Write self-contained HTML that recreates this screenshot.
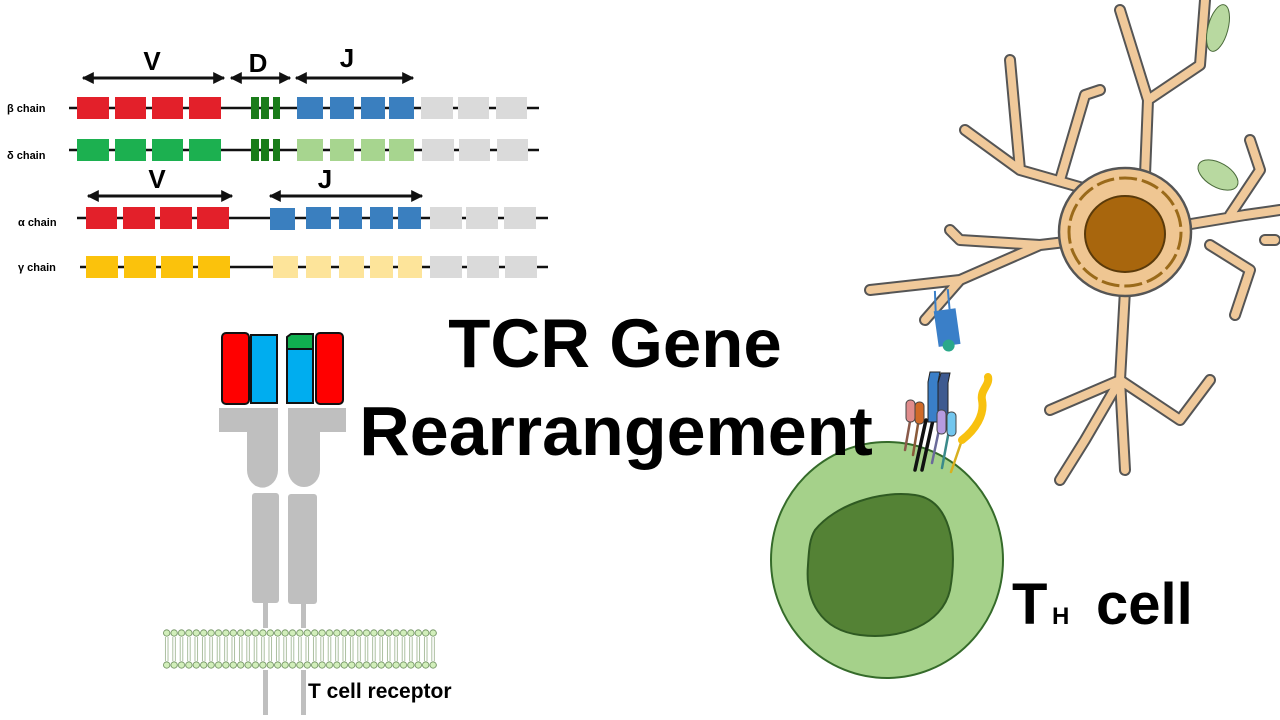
<!DOCTYPE html>
<html><head><meta charset="utf-8"><style>
html,body{margin:0;padding:0;background:#fff;}
svg{display:block}
text{font-family:"Liberation Sans",sans-serif;font-weight:bold;fill:#000}
</style></head><body>
<svg width="1280" height="720" viewBox="0 0 1280 720" xmlns="http://www.w3.org/2000/svg">
<defs>
<marker id="ah" viewBox="0 0 10 10" refX="9" refY="5" markerWidth="4" markerHeight="4" orient="auto-start-reverse"><path d="M0,0L10,5L0,10z" fill="#111"/></marker>
<pattern id="hp" x="163" y="0" width="7.4" height="720" patternUnits="userSpaceOnUse"><circle cx="3.7" cy="633" r="3.2" fill="#d2efbb" stroke="#678a58" stroke-width="0.8"/><circle cx="3.7" cy="665" r="3.2" fill="#d2efbb" stroke="#678a58" stroke-width="0.8"/><path d="M2.4,637V661M5,637V661" stroke="#8aa67a" stroke-width="0.7"/></pattern>
</defs>
<!-- gene diagram -->
<g stroke="#111" stroke-width="3" marker-start="url(#ah)" marker-end="url(#ah)">
<line x1="83" y1="78" x2="224" y2="78"/><line x1="231" y1="78" x2="290" y2="78"/><line x1="296" y1="78" x2="413" y2="78"/>
<line x1="88" y1="196" x2="232" y2="196"/><line x1="270" y1="196" x2="422" y2="196"/>
</g>
<g font-size="26" text-anchor="middle">
<text x="152" y="70">V</text><text x="258" y="72">D</text><text x="347" y="67">J</text>
<text x="157" y="188">V</text><text x="325" y="188">J</text>
</g>
<g font-size="11" font-weight="normal">
<text x="7" y="112">β chain</text><text x="7" y="159">δ chain</text><text x="18" y="226">α chain</text><text x="18" y="271">γ chain</text>
</g>
<g stroke="#111" stroke-width="2.5">
<line x1="69" y1="108" x2="539" y2="108"/><line x1="69" y1="150" x2="539" y2="150"/>
<line x1="77" y1="218" x2="548" y2="218"/><line x1="80" y1="267" x2="548" y2="267"/>
</g>
<g fill="#e3202a"><rect x="77" y="97" width="32" height="22"/><rect x="115" y="97" width="31" height="22"/><rect x="152" y="97" width="31" height="22"/><rect x="189" y="97" width="32" height="22"/>
<rect x="86" y="207" width="31" height="22"/><rect x="123" y="207" width="32" height="22"/><rect x="160" y="207" width="32" height="22"/><rect x="197" y="207" width="32" height="22"/></g>
<g fill="#1a7c1a"><rect x="251" y="97" width="8" height="22"/><rect x="261" y="97" width="8" height="22"/><rect x="273" y="97" width="7" height="22"/>
<rect x="251" y="139" width="8" height="22"/><rect x="261" y="139" width="8" height="22"/><rect x="273" y="139" width="7" height="22"/></g>
<g fill="#3a7fbf"><rect x="297" y="97" width="26" height="22"/><rect x="330" y="97" width="24" height="22"/><rect x="361" y="97" width="24" height="22"/><rect x="389" y="97" width="25" height="22"/>
<rect x="270" y="208" width="25" height="22"/><rect x="306" y="207" width="25" height="22"/><rect x="339" y="207" width="23" height="22"/><rect x="370" y="207" width="23" height="22"/><rect x="398" y="207" width="23" height="22"/></g>
<g fill="#1cb050"><rect x="77" y="139" width="32" height="22"/><rect x="115" y="139" width="31" height="22"/><rect x="152" y="139" width="31" height="22"/><rect x="189" y="139" width="32" height="22"/></g>
<g fill="#a7d58f"><rect x="297" y="139" width="26" height="22"/><rect x="330" y="139" width="24" height="22"/><rect x="361" y="139" width="24" height="22"/><rect x="389" y="139" width="25" height="22"/></g>
<g fill="#fbc20c"><rect x="86" y="256" width="32" height="22"/><rect x="124" y="256" width="32" height="22"/><rect x="161" y="256" width="32" height="22"/><rect x="198" y="256" width="32" height="22"/></g>
<g fill="#fde49a"><rect x="273" y="256" width="25" height="22"/><rect x="306" y="256" width="25" height="22"/><rect x="339" y="256" width="25" height="22"/><rect x="370" y="256" width="23" height="22"/><rect x="398" y="256" width="24" height="22"/></g>
<g fill="#dadada"><rect x="421" y="97" width="32" height="22"/><rect x="458" y="97" width="31" height="22"/><rect x="496" y="97" width="31" height="22"/>
<rect x="422" y="139" width="32" height="22"/><rect x="459" y="139" width="31" height="22"/><rect x="497" y="139" width="31" height="22"/>
<rect x="430" y="207" width="32" height="22"/><rect x="466" y="207" width="32" height="22"/><rect x="504" y="207" width="32" height="22"/>
<rect x="430" y="256" width="32" height="22"/><rect x="467" y="256" width="32" height="22"/><rect x="505" y="256" width="32" height="22"/></g>

<!-- TCR -->
<g fill="#bfbfbf">
<rect x="263" y="600" width="5" height="115"/><rect x="301" y="600" width="5" height="115"/>
<rect x="219" y="408" width="59" height="24"/><rect x="288" y="408" width="58" height="24"/>
<path d="M247,430h31v40a15,17 0 0 1 -31,0z"/><path d="M288,430h32v40a16,17 0 0 1 -32,0z"/>
<rect x="252" y="493" width="27" height="110" rx="3"/><rect x="288" y="494" width="29" height="110" rx="3"/>
</g>
<g stroke="#111" stroke-width="2">
<rect x="222" y="333" width="27" height="71" rx="4" fill="#f00"/>
<rect x="251" y="335" width="26" height="68" fill="#00adef"/>
<rect x="287" y="349" width="26" height="54" fill="#00adef"/>
<path d="M287,349v-12l4,-3h22v15z" fill="#10b050"/>
<rect x="316" y="333" width="27" height="71" rx="4" fill="#f00"/>
</g>
<rect x="163" y="628" width="274" height="42" fill="#fff"/>
<rect x="163" y="628" width="274" height="42" fill="url(#hp)"/>

<!-- T cell -->
<ellipse cx="887" cy="560" rx="116" ry="118" fill="#a5d18a" stroke="#356b2a" stroke-width="2"/>
<path d="M815,530 C835,505 880,490 915,495 C950,500 958,545 950,590 C942,625 900,640 860,635 C820,630 805,600 808,565 C809,548 810,538 815,530z" fill="#548235" stroke="#2f5a22" stroke-width="2"/>
<g stroke-width="2.5" stroke-linecap="round">
<line x1="905" y1="450" x2="912" y2="410" stroke="#8a5a4a"/><rect x="906" y="400" width="9" height="22" rx="4" fill="#e08c8c" stroke="#444" stroke-width="1"/>
<line x1="913" y1="455" x2="920" y2="412" stroke="#8a5a3a"/><rect x="915" y="402" width="9" height="22" rx="4" fill="#d06a28" stroke="#444" stroke-width="1"/>
<line x1="915" y1="470" x2="926" y2="420" stroke="#111" stroke-width="3.5"/><line x1="922" y1="470" x2="933" y2="420" stroke="#111" stroke-width="3.5"/>
<path d="M930,372 l10,0 l-2,10 l0,40 l-10,0 l0,-40z" fill="#3a7fc8" stroke="#222" stroke-width="1"/>
<path d="M941,373 l9,0 l-2,10 l0,40 l-10,0 l0,-40z" fill="#3e5a90" stroke="#222" stroke-width="1"/>
<line x1="932" y1="463" x2="940" y2="425" stroke="#6a6a9a"/><rect x="937" y="410" width="9" height="24" rx="4" fill="#b69be0" stroke="#444" stroke-width="1"/>
<line x1="942" y1="468" x2="950" y2="425" stroke="#3a8a8a"/><rect x="947" y="412" width="9" height="24" rx="4" fill="#72c6ee" stroke="#444" stroke-width="1"/>
<line x1="951" y1="472" x2="963" y2="437" stroke="#d8b020"/>
<path d="M962,440 C975,430 985,415 982,400 C980,390 990,385 988,377" stroke="#f8c10f" stroke-width="8" fill="none"/>
</g>
<text x="1012" y="624" font-size="58">T</text><text x="1052" y="624" font-size="24">H</text><text x="1096" y="624" font-size="58">cell</text>

<!-- dendritic cell -->
<g fill="none" stroke-linecap="round" stroke-linejoin="round">
<g stroke="#555" stroke-width="12">
<path d="M1125,235 L1040,245 L960,280 L870,290 M960,280 L925,320 M1040,245 L960,240 L950,230 M1090,190 L1020,170 L1010,60 M1020,170 L965,130 M1060,180 L1085,95 M1085,95 L1100,90 M1145,175 L1148,100 L1120,10 M1148,100 L1200,65 L1205,0 M1185,225 L1245,215 L1280,210 M1230,215 L1260,170 L1250,140 M1210,245 L1250,270 L1235,315 M1125,290 L1120,380 L1050,410 M1120,380 L1085,440 L1060,480 M1120,380 L1125,470 M1120,380 L1180,420 L1210,380 M1265,240 L1275,240"/>
</g>
<g stroke="#f0c99a" stroke-width="8">
<path d="M1125,235 L1040,245 L960,280 L870,290 M960,280 L925,320 M1040,245 L960,240 L950,230 M1090,190 L1020,170 L1010,60 M1020,170 L965,130 M1060,180 L1085,95 M1085,95 L1100,90 M1145,175 L1148,100 L1120,10 M1148,100 L1200,65 L1205,0 M1185,225 L1245,215 L1280,210 M1230,215 L1260,170 L1250,140 M1210,245 L1250,270 L1235,315 M1125,290 L1120,380 L1050,410 M1120,380 L1085,440 L1060,480 M1120,380 L1125,470 M1120,380 L1180,420 L1210,380 M1265,240 L1275,240"/>
</g>
</g>
<ellipse cx="1125" cy="232" rx="66" ry="64" fill="#efc692" stroke="#555" stroke-width="2.5"/>
<ellipse cx="1125" cy="232" rx="56" ry="54" fill="none" stroke="#9a6a1a" stroke-width="3" stroke-dasharray="18 5"/>
<ellipse cx="1125" cy="234" rx="40" ry="38" fill="#a8660d" stroke="#5a3a0a" stroke-width="2"/>
<ellipse cx="1218" cy="175" rx="22" ry="12" transform="rotate(30 1218 175)" fill="#b8d9a0" stroke="#4a6a3a" stroke-width="1"/>
<ellipse cx="1218" cy="28" rx="10" ry="24" transform="rotate(15 1218 28)" fill="#b8d9a0" stroke="#4a6a3a" stroke-width="1"/>
<g transform="rotate(-8 944 327)">
<line x1="940" y1="290" x2="938" y2="310" stroke="#3a7fc8" stroke-width="2"/><line x1="953" y1="290" x2="952" y2="310" stroke="#3a7fc8" stroke-width="2"/>
<rect x="936" y="310" width="22" height="36" fill="#3a7fc8"/>
<circle cx="946" cy="346" r="6" fill="#2aa88a"/>
</g>

<!-- title -->
<text x="615" y="367" font-size="69" text-anchor="middle">TCR Gene</text>
<text x="616" y="455" font-size="70" text-anchor="middle">Rearrangement</text>
<text x="308" y="698" font-size="21">T cell receptor</text>
</svg>
</body></html>
